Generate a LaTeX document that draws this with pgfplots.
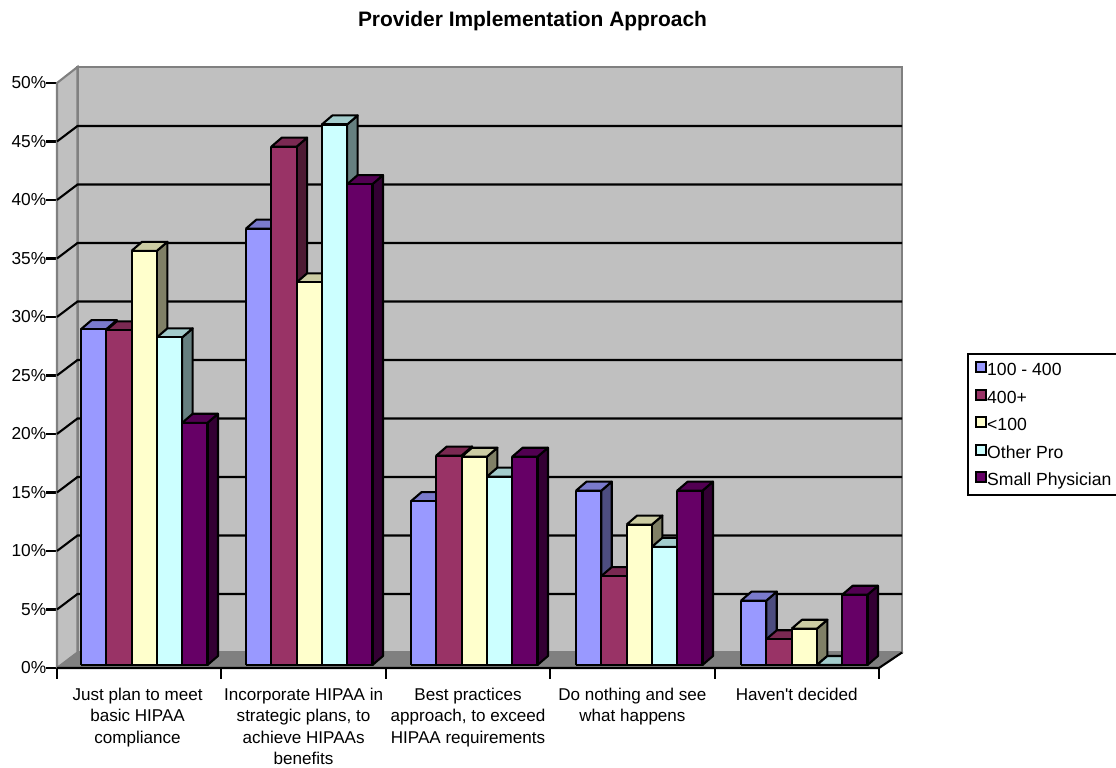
\documentclass[border=0pt]{standalone}
\usepackage{fontspec}
\setmainfont{Liberation Sans}
\newfontfamily\plainquote{Liberation Sans}
\usepackage{pgfplots}
\pgfplotsset{compat=1.18}
\newlength\px
\setlength\px{0.75pt}
\definecolor{wall}{HTML}{C0C0C0}
\definecolor{edge}{HTML}{808080}
\definecolor{sA}{HTML}{9999FF}\definecolor{sAt}{HTML}{7A7ACC}\definecolor{sAs}{HTML}{4D4D80}
\definecolor{sB}{HTML}{993366}\definecolor{sBt}{HTML}{7A2952}\definecolor{sBs}{HTML}{4D1A33}
\definecolor{sC}{HTML}{FFFFCC}\definecolor{sCt}{HTML}{CCCCA3}\definecolor{sCs}{HTML}{808066}
\definecolor{sD}{HTML}{CCFFFF}\definecolor{sDt}{HTML}{A3CCCC}\definecolor{sDs}{HTML}{668080}
\definecolor{sE}{HTML}{660066}\definecolor{sEt}{HTML}{520052}\definecolor{sEs}{HTML}{330033}
\def\lw{2.1\px}

% depth of a column, in axis units
\def\depthx{0.0636}
\def\depthy{0.77}
\def\barw{0.1533}
% \threedbar{group}{series}{value}{front}{top}{side}
\newcommand\threedbar[6]{%
  \pgfmathsetmacro\xa{#1+0.1424+\barw*#2}%
  \pgfmathsetmacro\xb{\xa+\barw}%
  \pgfmathsetmacro\xc{\xb+\depthx}%
  \pgfmathsetmacro\xd{\xa+\depthx}%
  \pgfmathsetmacro\yt{#3+\depthy}%
  \addplot[fill=#6,draw=black,line width=\lw,line join=round] coordinates
    {(\xb,0) (\xc,\depthy) (\xc,\yt) (\xb,#3) (\xb,0)};
  \addplot[fill=#5,draw=black,line width=\lw,line join=round] coordinates
    {(\xa,#3) (\xd,\yt) (\xc,\yt) (\xb,#3) (\xa,#3)};
  \addplot[fill=#4,draw=black,line width=\lw,line join=round] coordinates
    {(\xa,0) (\xa,#3) (\xb,#3) (\xb,0) (\xa,0)};
}
% one horizontal rule across the side and back walls
\newcommand\wallrule[2]{%
  \addplot[black,line width=\lw,forget plot] coordinates
    {(0,#1) (0.1247,#2) (5.14,#2)};
}

\begin{document}
\begin{tikzpicture}
\useasboundingbox (0,0) rectangle (1116\px,767\px);
\node[font=\bfseries\fontsize{15.7pt}{18pt}\selectfont,anchor=base] at (532.5\px,740.3\px)
  {Provider Implementation Approach};

\begin{axis}[
  at={(57\px,99\px)},anchor=origin,
  scale only axis,width=822\px,height=585\px,
  xmin=0,xmax=5,ymin=0,ymax=50,
  clip=false,
  axis lines=left,
  axis line style={-,black,line width=\lw},
  tick style={black,line width=\lw},
  tick align=outside,
  major tick length=10.5\px,
  xtick={0,1,2,3,4,5},
  xticklabels={},
  extra x ticks={0.49,1.5,2.5,3.5,4.5},
  extra x tick style={major tick length=0pt},
  extra x tick labels={
    {Just plan to meet\\basic HIPAA\\compliance},
    {Incorporate HIPAA in\\strategic plans, to\\achieve HIPAAs\\benefits},
    {Best practices\\approach, to exceed\\HIPAA requirements},
    {Do nothing and see\\what happens},
    {Haven{\plainquote '}t decided}},
  x tick label style={align=center,anchor=north,yshift=-20\px,inner sep=0pt,
    font=\fontsize{12.8pt}{15.9pt}\selectfont},
  ytick={0,5,10,15,20,25,30,35,40,45,50},
  yticklabels={0\%,5\%,10\%,15\%,20\%,25\%,30\%,35\%,40\%,45\%,50\%},
  y tick label style={anchor=east,inner sep=0pt,xshift=0\px,
    font=\fontsize{13pt}{15pt}\selectfont},
  legend image code/.code={\draw[#1] (0,-2.5\px) rectangle (10\px,7.5\px);},
  legend cell align=left,
  legend style={
    at={(1.1071,0.5385)},anchor=north west,
    draw=black,line width=\lw,
    font=\fontsize{13.2pt}{15pt}\selectfont,
    inner xsep=7\px,inner ysep=7\px,
    row sep=11\px,
    nodes={inner sep=0pt,text height=14\px,text depth=2\px},
    /tikz/every even column/.append style={column sep=5\px},
  },
]
% floor and walls
\addplot[fill=wall,draw=edge,line width=\lw,forget plot] coordinates
  {(0.1247,1.325) (5.14,1.325) (5.14,51.37) (0.1247,51.37) (0.1247,1.325)};
\addplot[fill=wall,draw=edge,line width=\lw,forget plot] coordinates
  {(0,0) (0.1247,1.325) (0.1247,51.37) (0,50) (0,0)};
\addplot[fill=edge,draw=edge,line width=1\px,forget plot] coordinates
  {(0,0) (5,0) (5.14,1.325) (0.1247,1.325) (0,0)};
% rules at each 5% step
\wallrule{5}{6.325}\wallrule{10}{11.325}\wallrule{15}{16.325}
\wallrule{20}{21.325}\wallrule{25}{26.325}\wallrule{30}{31.325}
\wallrule{35}{36.325}\wallrule{40}{41.325}\wallrule{45}{46.325}
\addplot[black,line width=\lw,forget plot] coordinates {(0,0) (5,0) (5.14,1.325)};
\addlegendimage{fill=sA,draw=black,line width=\lw}\addlegendentry{100 - 400}
\addlegendimage{fill=sB,draw=black,line width=\lw}\addlegendentry{400+}
\addlegendimage{fill=sC,draw=black,line width=\lw}\addlegendentry{<100}
\addlegendimage{fill=sD,draw=black,line width=\lw}\addlegendentry{Other Pro}
\addlegendimage{fill=sE,draw=black,line width=\lw}\addlegendentry{Small Physician}
\end{axis}

\begin{axis}[
  at={(57.5\px,102\px)},anchor=origin,
  scale only axis,width=825\px,height=585\px,
  xmin=0,xmax=5,ymin=0,ymax=50,
  clip=false,hide axis,
]
% 100 - 400
\threedbar{0}{0}{28.7}{sA}{sAt}{sAs}
\threedbar{1}{0}{37.3}{sA}{sAt}{sAs}
\threedbar{2}{0}{14.0}{sA}{sAt}{sAs}
\threedbar{3}{0}{14.9}{sA}{sAt}{sAs}
\threedbar{4}{0}{5.5}{sA}{sAt}{sAs}
% 400+
\threedbar{0}{1}{28.6}{sB}{sBt}{sBs}
\threedbar{1}{1}{44.3}{sB}{sBt}{sBs}
\threedbar{2}{1}{17.9}{sB}{sBt}{sBs}
\threedbar{3}{1}{7.6}{sB}{sBt}{sBs}
\threedbar{4}{1}{2.2}{sB}{sBt}{sBs}
% <100
\threedbar{0}{2}{35.4}{sC}{sCt}{sCs}
\threedbar{1}{2}{32.7}{sC}{sCt}{sCs}
\threedbar{2}{2}{17.8}{sC}{sCt}{sCs}
\threedbar{3}{2}{12.0}{sC}{sCt}{sCs}
\threedbar{4}{2}{3.1}{sC}{sCt}{sCs}
% Other Pro
\threedbar{0}{3}{28.0}{sD}{sDt}{sDs}
\threedbar{1}{3}{46.2}{sD}{sDt}{sDs}
\threedbar{2}{3}{16.1}{sD}{sDt}{sDs}
\threedbar{3}{3}{10.1}{sD}{sDt}{sDs}
\threedbar{4}{3}{0}{sD}{sDt}{sDs}
% Small Physician
\threedbar{0}{4}{20.7}{sE}{sEt}{sEs}
\threedbar{1}{4}{41.1}{sE}{sEt}{sEs}
\threedbar{2}{4}{17.8}{sE}{sEt}{sEs}
\threedbar{3}{4}{14.9}{sE}{sEt}{sEs}
\threedbar{4}{4}{6.0}{sE}{sEt}{sEs}
\end{axis}
\end{tikzpicture}
\end{document}
